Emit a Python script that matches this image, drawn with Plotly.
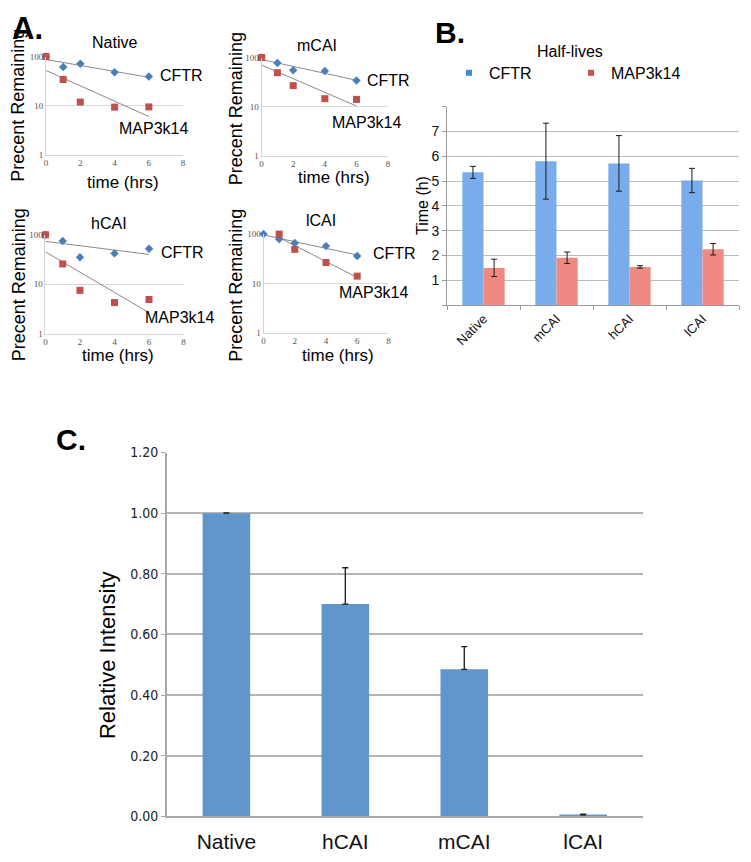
import numpy as np
import plotly.graph_objects as go

# page body has an 8px margin; size the figure so the page fits the window exactly
OX, OY = 8, 8
FW, FH = 735, 846

# ---------------- Panel A data (percent remaining vs time) ----------------
time_pts = [0, 1, 2, 4, 6]
time_lcai_map = [1, 2, 4, 6]
native_cftr = [100, 61, 71, 48, 39]
native_map = [100, 34, 11.8, 9.3, 9.4]
mcai_cftr = [100, 77, 55, 53, 34]
mcai_map = [100, 49, 26.7, 14.5, 14]
hcai_cftr = [100, 75, 35, 42, 52]
hcai_map = [100, 25.7, 7.5, 4.25, 4.9]
lcai_cftr = [100, 79, 66, 57, 36]
lcai_map = [100, 49, 26.5, 14]
a_titles = ["Native", "mCAI", "hCAI", "lCAI"]
a_xticks = [0, 2, 4, 6, 8]
a_yticks = [1, 10, 100]

# ---------------- Panel B data (half-lives) ----------------
b_cats = ["Native", "mCAI", "hCAI", "lCAI"]
cftr_half = [5.35, 5.80, 5.71, 5.02]
cftr_half_err = [0.24, 1.53, 1.12, 0.49]
map_half = [1.50, 1.91, 1.54, 2.25]
map_half_err = [0.35, 0.23, 0.05, 0.23]
b_yticks = [0, 1, 2, 3, 4, 5, 6, 7, 8]
b_yticktext = ["", "1", "2", "3", "4", "5", "6", "7", ""]

# ---------------- Panel C data (relative intensity) ----------------
c_cats = ["Native", "hCAI", "mCAI", "lCAI"]
rel_int = [1.00, 0.70, 0.485, 0.005]
rel_int_err = [0.001, 0.12, 0.075, 0.002]
c_yticks = [0.0, 0.2, 0.4, 0.6, 0.8, 1.0, 1.2]

FONT = "Liberation Sans, Arial, Helvetica, sans-serif"
NARROW = "Liberation Sans Narrow, Arial Narrow, DejaVu Sans Condensed, sans-serif"
SERIF = "Liberation Serif, Times New Roman, serif"

BLUE_PT = "#4a7ebb"
RED_PT = "#c0504d"
CFTR_BAR = "#78acea"
MAP_BAR = "#ef8a83"
C_BAR = "#6096cb"


def fx(px):
    return (px - OX) / FW


def fy(py):
    return 1 - (py - OY) / FH


def trend(t, v):
    k, b = np.polyfit(np.array(t, float), np.log10(np.array(v, float)), 1)
    tt = np.array([min(t), max(t)], float)
    return tt, 10 ** (k * tt + b)


fig = go.Figure()

# subplot boxes in reference pixels: (x0, x1, ytop, ybottom)
a_boxes = [
    (44.3, 182.3, 49.3, 149.3),
    (261.3, 388.7, 50.3, 150.3),
    (43.7, 182.7, 231.0, 331.7),
    (263.3, 389.0, 230.3, 330.7),
]
a_series = [
    (time_pts, native_cftr, time_pts, native_map),
    (time_pts, mcai_cftr, time_pts, mcai_map),
    (time_pts, hcai_cftr, time_pts, hcai_map),
    (time_pts, lcai_cftr, time_lcai_map, lcai_map),
]

layout_axes = {}
for i, ((tc, vc, tm, vm), (x0, x1, yt, yb)) in enumerate(zip(a_series, a_boxes)):
    n = i + 1
    xa = "x" if n == 1 else f"x{n}"
    ya = "y" if n == 1 else f"y{n}"
    for tt, vv in (trend(tc, vc), trend(tm, vm)):
        fig.add_trace(go.Scatter(x=tt, y=vv, mode="lines",
                                 line=dict(color="#8a8a8a", width=1),
                                 xaxis=xa, yaxis=ya, showlegend=False,
                                 hoverinfo="skip"))
    fig.add_trace(go.Scatter(x=tc, y=vc, mode="markers", name="CFTR",
                             marker=dict(symbol="diamond", size=6.5, color=BLUE_PT),
                             cliponaxis=False,
                             xaxis=xa, yaxis=ya, showlegend=False))
    fig.add_trace(go.Scatter(x=tm, y=vm, mode="markers", name="MAP3k14",
                             marker=dict(symbol="square", size=7, color=RED_PT),
                             cliponaxis=False,
                             xaxis=xa, yaxis=ya, showlegend=False))
    xkey = "xaxis" if n == 1 else f"xaxis{n}"
    ykey = "yaxis" if n == 1 else f"yaxis{n}"
    layout_axes[xkey] = dict(domain=[fx(x0), fx(x1)], range=[0, 8], anchor=ya,
                             tickvals=a_xticks, showgrid=False, zeroline=False,
                             showline=True, linecolor="#d4d4d4", linewidth=1,
                             ticks="", tickfont=dict(family=SERIF, size=9, color="#555"))
    layout_axes[ykey] = dict(domain=[fy(yb), fy(yt)], type="log", range=[0, 2], anchor=xa,
                             tickvals=a_yticks, showgrid=True, gridcolor="#d9d9d9",
                             gridwidth=1, zeroline=False, showline=True,
                             linecolor="#d4d4d4", linewidth=1, ticks="",
                             tickfont=dict(family=SERIF, size=9, color="#555"))

# ---------------- Panel B ----------------
fig.add_trace(go.Bar(x=b_cats, y=cftr_half, width=0.29, offset=-0.29,
                     marker=dict(color=CFTR_BAR, line=dict(width=0)), name="CFTR",
                     error_y=dict(type="data", array=cftr_half_err, color="#1a1a1a",
                                  thickness=1, width=3),
                     xaxis="x5", yaxis="y5", showlegend=False))
fig.add_trace(go.Bar(x=b_cats, y=map_half, width=0.29, offset=0.0,
                     marker=dict(color=MAP_BAR, line=dict(width=0)), name="MAP3k14",
                     error_y=dict(type="data", array=map_half_err, color="#1a1a1a",
                                  thickness=1, width=3),
                     xaxis="x5", yaxis="y5", showlegend=False))
# legend entries
fig.add_trace(go.Scatter(x=[None], y=[None], mode="markers", name="CFTR",
                         marker=dict(symbol="square", size=6, color="#4a86d0"),
                         xaxis="x5", yaxis="y5", showlegend=True))
fig.add_trace(go.Scatter(x=[None], y=[None], mode="markers", name="MAP3k14",
                         marker=dict(symbol="square", size=6, color="#d0504c"),
                         xaxis="x5", yaxis="y5", showlegend=True))

layout_axes["xaxis5"] = dict(domain=[fx(448), fx(742)], anchor="y5", type="category",
                             range=[-0.5, 3.5], showline=True, linecolor="#9a9a9a",
                             ticks="outside", tickson="boundaries", ticklen=4,
                             tickcolor="#9a9a9a", tickangle=-45, showgrid=False,
                             tickfont=dict(family=FONT, size=13, color="#111"))
layout_axes["yaxis5"] = dict(domain=[fy(302.7), fy(100.3)], anchor="x5", range=[0, 8],
                             tickvals=b_yticks, ticktext=b_yticktext, showgrid=True,
                             gridcolor="#bcbcbc", gridwidth=1, zeroline=False,
                             showline=True, linecolor="#9a9a9a", ticks="outside",
                             ticklen=4, tickcolor="#9a9a9a",
                             tickfont=dict(family=FONT, size=14, color="#111"))

# ---------------- Panel C ----------------
fig.add_trace(go.Bar(x=c_cats, y=rel_int, width=0.4, offset=-0.2,
                     marker=dict(color=C_BAR, line=dict(width=0)), name="Relative Intensity",
                     error_y=dict(type="data", symmetric=False, array=rel_int_err,
                                  arrayminus=[0, 0, 0, 0], color="#1a1a1a",
                                  thickness=1.3, width=3),
                     xaxis="x6", yaxis="y6", showlegend=False))
layout_axes["xaxis6"] = dict(domain=[fx(166), fx(645)], anchor="y6", type="category",
                             range=[-0.5, 3.5], showline=True, linecolor="#a8a8a8",
                             linewidth=1.5, ticks="outside", ticklen=6,
                             tickcolor="rgba(0,0,0,0)", showgrid=False,
                             tickfont=dict(family=FONT, size=21, color="#111"))
layout_axes["yaxis6"] = dict(domain=[fy(823.7), fy(453)], anchor="x6", range=[0, 1.2],
                             tickvals=c_yticks, ticktext=[f"{v:.2f}" for v in c_yticks],
                             showgrid=True, gridcolor="#b4b4b4", gridwidth=1.5,
                             zeroline=False, showline=True, linecolor="#a8a8a8",
                             linewidth=1.5, ticks="outside", ticklen=4,
                             tickcolor="#a8a8a8",
                             tickfont=dict(family=NARROW, size=14, color="#222"))

# ---------------- Text annotations ----------------
ann = []


def add_text(text, x, y, size, xanchor="center", bold=False, angle=0, family=FONT):
    ann.append(dict(text=f"<b>{text}</b>" if bold else text, x=fx(x), y=fy(y),
                    xref="paper", yref="paper", xanchor=xanchor, yanchor="middle",
                    showarrow=False, textangle=angle,
                    font=dict(family=family, size=size, color="#000")))


add_text("A.", 8, 21, 31, xanchor="left", bold=True)
add_text("B.", 434, 25, 30, xanchor="left", bold=True)
add_text("C.", 52, 440, 30, xanchor="left", bold=True)

# panel A titles, axis titles and series labels
title_pos = [(113, 35), (317, 38), (108, 219), (321, 216)]
ytitle_pos = [(16.5, 99), (235.5, 102), (16.5, 282), (235.5, 282)]
xtitle_pos = [(122, 177.5), (334.7, 172.5), (116.7, 354), (338, 354)]
cftr_lab = [(157, 68.5), (365, 73.5), (158.3, 248.8), (371.7, 250.5)]
map_lab = [(116, 122.5), (330, 117), (141.7, 315), (337.7, 290.2)]
for i in range(4):
    add_text(a_titles[i], *title_pos[i], 16)
    add_text("Precent Remaining", *ytitle_pos[i], 18, angle=-90)
    add_text("time (hrs)", *xtitle_pos[i], 17)
    add_text("CFTR", *cftr_lab[i], 16, xanchor="left")
    add_text("MAP3k14", *map_lab[i], 16, xanchor="left")

# panel B
add_text("Half-lives", 572, 44, 16)
add_text("Time (h)", 424, 201.5, 16, angle=-90)

# panel C
add_text("Relative Intensity", 106, 659, 22, angle=-90)

fig.update_layout(
    width=FW, height=FH, margin=dict(l=0, r=0, t=0, b=0),
    paper_bgcolor="white", plot_bgcolor="white",
    font=dict(family=FONT, color="#000"),
    annotations=ann,
    legend=dict(orientation="h", x=fx(450), xanchor="left", y=fy(66), yanchor="middle",
                font=dict(family=FONT, size=16, color="#000"),
                entrywidth=77, entrywidthmode="pixels", bgcolor="rgba(0,0,0,0)",
                itemclick=False, itemdoubleclick=False, tracegroupgap=0),
    **layout_axes,
)

fig.write_html("out.html")
